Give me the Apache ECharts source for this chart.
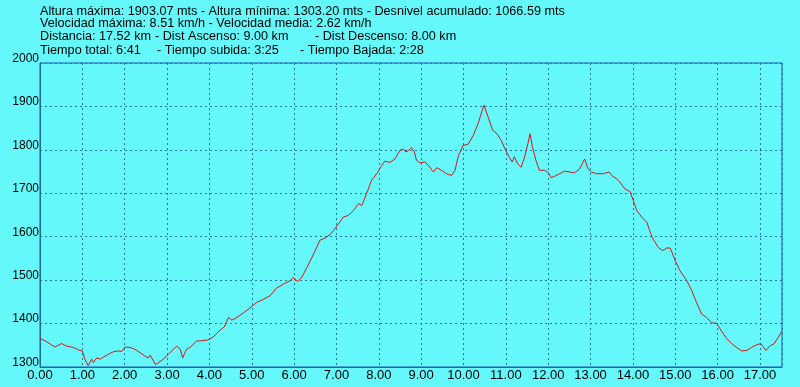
<!DOCTYPE html>
<html>
<head>
<meta charset="utf-8">
<script src="https://cdn.jsdelivr.net/npm/echarts@6/dist/echarts.min.js"></script>
<style>
  html, body { margin: 0; padding: 0; background: #64f8fa; }
  #chart { width: 800px; height: 387px; }
</style>
</head>
<body>
<div id="chart"></div>
<script>
// distance (km) and altitude (m)
const distKm = [
  0.00, 0.16, 0.35, 0.51, 0.63, 0.79, 0.94, 1.00, 1.06, 1.14, 1.22, 1.26, 1.34, 1.42, 1.50,
  1.61, 1.73, 1.85, 1.93, 2.01, 2.13, 2.24, 2.36, 2.48, 2.56, 2.60, 2.68, 2.72, 2.80, 2.91,
  3.03, 3.15, 3.23, 3.31, 3.37, 3.46, 3.54, 3.70, 3.78, 3.95, 4.09, 4.25, 4.35, 4.45, 4.53,
  4.65, 4.81, 4.96, 5.12, 5.28, 5.43, 5.59, 5.75, 5.91, 5.98, 6.08, 6.18, 6.30, 6.42, 6.53,
  6.61, 6.73, 6.85, 6.93, 7.05, 7.16, 7.28, 7.40, 7.52, 7.60, 7.71, 7.83, 7.95, 8.07, 8.14,
  8.26, 8.38, 8.50, 8.58, 8.64, 8.72, 8.77, 8.84, 8.89, 8.97, 9.09, 9.17, 9.29, 9.37, 9.48,
  9.60, 9.72, 9.80, 9.88, 9.99, 10.11, 10.23, 10.35, 10.48, 10.58, 10.69, 10.79, 10.89, 10.99, 11.08,
  11.15, 11.20, 11.28, 11.36, 11.44, 11.52, 11.57, 11.63, 11.71, 11.79, 11.91, 11.99, 12.07, 12.15, 12.27,
  12.39, 12.51, 12.62, 12.74, 12.86, 12.94, 13.02, 13.14, 13.30, 13.44, 13.50, 13.62, 13.69, 13.81, 13.93,
  14.01, 14.09, 14.21, 14.33, 14.45, 14.60, 14.70, 14.80, 14.88, 15.00, 15.11, 15.27, 15.39, 15.50, 15.62,
  15.74, 15.86, 15.98, 16.09, 16.21, 16.33, 16.45, 16.57, 16.69, 16.80, 16.92, 17.02, 17.14, 17.24, 17.33,
  17.43, 17.52
];
const altitude = [
  1366, 1358, 1346, 1354, 1348, 1345, 1338, 1337, 1318, 1303, 1318, 1310, 1321, 1318, 1323,
  1329, 1335, 1337, 1336, 1346, 1345, 1341, 1333, 1325, 1321, 1327, 1314, 1306, 1310, 1318,
  1329, 1341, 1348, 1341, 1321, 1341, 1345, 1360, 1360, 1362, 1369, 1385, 1392, 1414, 1408,
  1414, 1425, 1436, 1449, 1456, 1464, 1482, 1491, 1499, 1506, 1497, 1506, 1529, 1552, 1575,
  1592, 1597, 1605, 1614, 1630, 1645, 1649, 1660, 1676, 1672, 1699, 1730, 1745, 1764, 1774,
  1771, 1779, 1799, 1802, 1795, 1800, 1805, 1795, 1776, 1770, 1772, 1764, 1749, 1759, 1753,
  1745, 1741, 1753, 1787, 1810, 1813, 1833, 1862, 1903, 1876, 1845, 1837, 1822, 1800, 1783,
  1772, 1784, 1768, 1760, 1783, 1814, 1837, 1806, 1776, 1753, 1753, 1749, 1736, 1739, 1745,
  1751, 1749, 1747, 1756, 1779, 1756, 1749, 1745, 1745, 1749, 1741, 1733, 1726, 1710, 1704,
  1683, 1660, 1645, 1633, 1599, 1575, 1568, 1574, 1574, 1545, 1522, 1499, 1476, 1449, 1422,
  1414, 1402, 1400, 1383, 1366, 1354, 1345, 1337, 1338, 1345, 1351, 1354, 1338, 1349, 1353,
  1368, 1383
];

// header lines: [text, x, y]
const headerTexts = [
  ['Altura máxima: 1903.07 mts - Altura mínima: 1303.20 mts - Desnivel acumulado: 1066.59 mts', 40, 12],
  ['Velocidad máxima: 8.51 km/h - Velocidad media: 2.62 km/h', 40, 24],
  ['Distancia: 17.52 km', 40, 37],
  ['- Dist Ascenso: 9.00 km', 155, 37],
  ['- Dist Descenso: 8.00 km', 315, 37],
  ['Tiempo total: 6:41', 40, 51],
  ['- Tiempo subida: 3:25', 157, 51],
  ['- Tiempo Bajada: 2:28', 300, 51]
];

const xMin = 0, xMax = 17.52, xStep = 1;
const yMin = 1300, yMax = 2000, yStep = 100;

const font = '"Liberation Sans", Arial, sans-serif';
const points = distKm.map((d, i) => [d, altitude[i]]);

const chart = echarts.init(document.getElementById('chart'));
chart.setOption({
  backgroundColor: '#64f8fa',
  animation: false,
  graphic: headerTexts.map(([t, x, y]) => ({
    type: 'text',
    x: x,
    y: y,
    style: {
      text: t,
      fill: '#000',
      font: '12.65px ' + font,
      textVerticalAlign: 'middle'
    }
  })),
  grid: {
    left: 40, right: 18, top: 63, bottom: 20,
    show: true,
    borderColor: '#2452b8',
    borderWidth: 1,
    backgroundColor: 'transparent'
  },
  xAxis: {
    type: 'value',
    min: xMin, max: xMax, interval: xStep,
    axisLine: { show: true, lineStyle: { color: '#236a90', width: 1 } },
    axisTick: { show: false },
    axisLabel: {
      color: '#000', fontFamily: font, fontSize: 13, margin: 2,
      showMaxLabel: false,
      formatter: v => v.toFixed(2)
    },
    splitLine: { show: true, lineStyle: { color: '#2178a0', type: [2, 3], width: 1 } }
  },
  yAxis: {
    type: 'value',
    min: yMin, max: yMax, interval: yStep,
    axisLine: { show: true, lineStyle: { color: '#236a90', width: 1 } },
    axisTick: { show: false },
    axisLabel: {
      color: '#000', fontFamily: font, fontSize: 12, margin: 1,
      verticalAlign: 'bottom', lineHeight: 9,
      formatter: v => String(v)
    },
    splitLine: { show: true, lineStyle: { color: '#2178a0', type: [2, 3], width: 1 } }
  },
  series: [{
    type: 'line',
    data: points,
    symbol: 'none',
    smooth: false,
    lineStyle: { color: '#d01818', width: 1 }
  }]
});
</script>
</body>
</html>
